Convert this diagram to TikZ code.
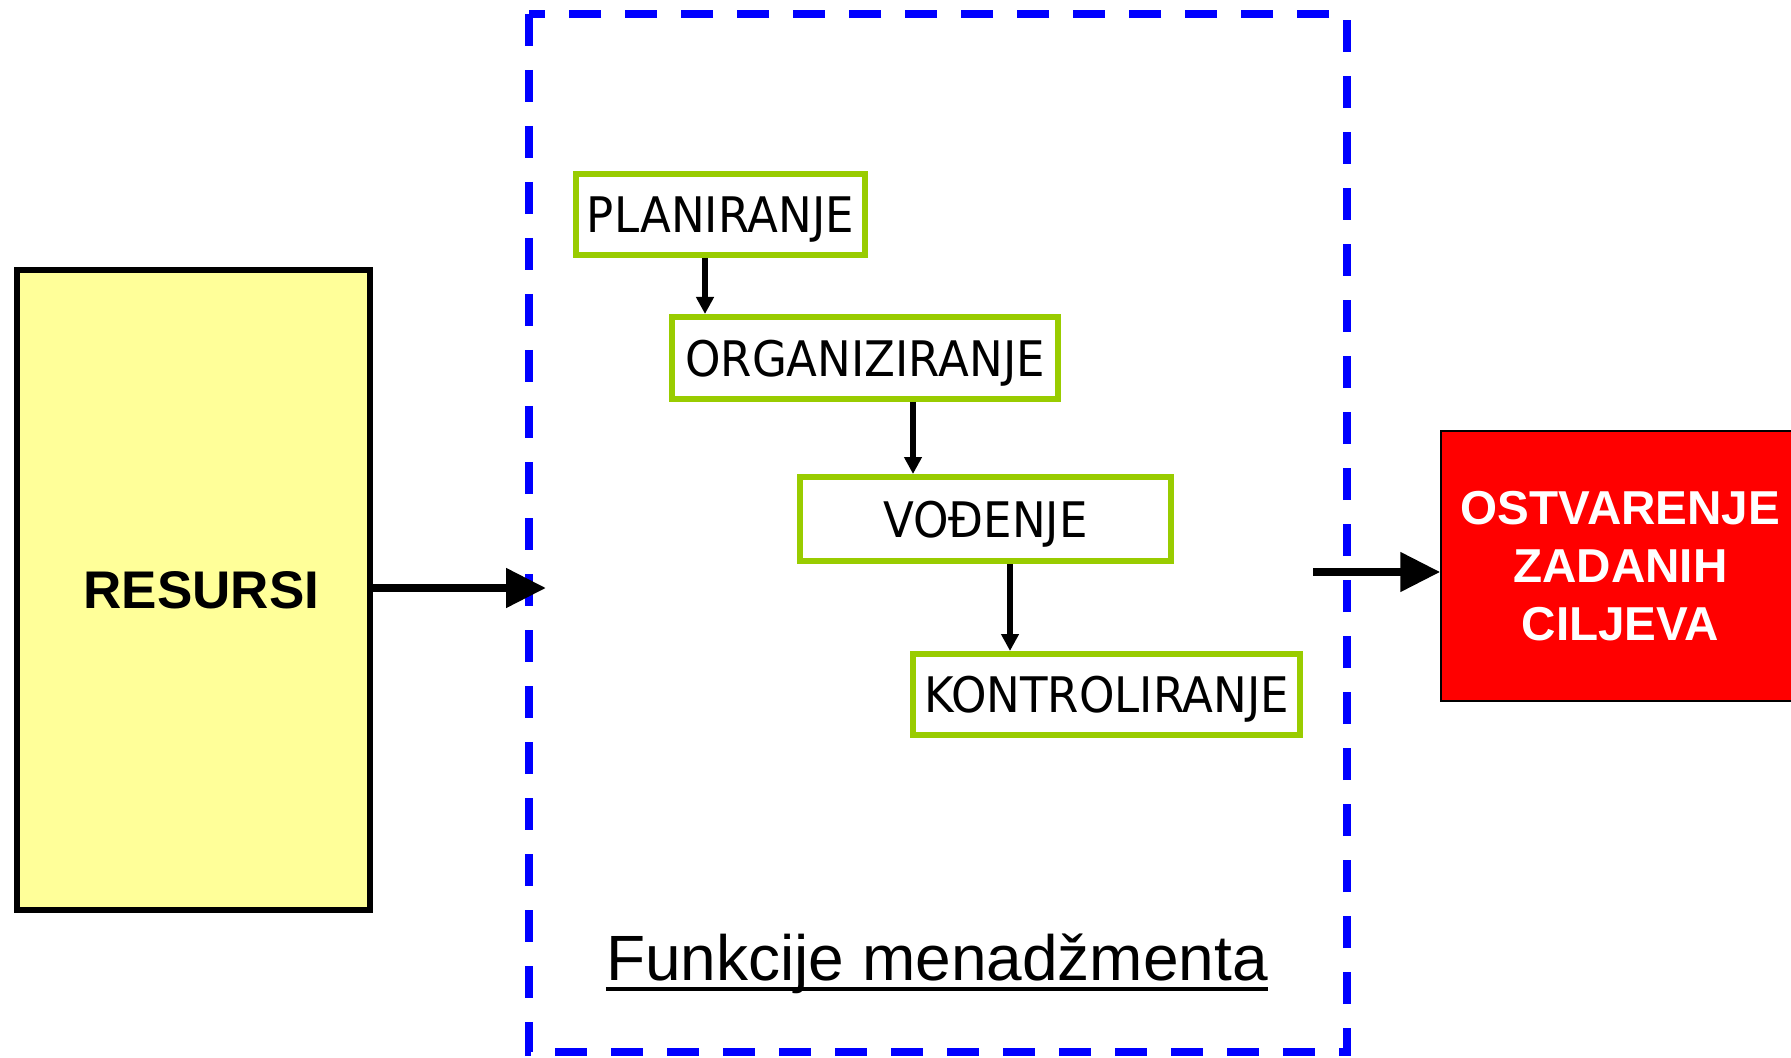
\documentclass[tikz,border=0pt]{standalone}
\usepackage{fontspec}
\setmainfont{Liberation Sans}
\newfontfamily\boxfont[FakeStretch=0.92]{DejaVu Sans}
\usetikzlibrary{arrows.meta,calc}
\definecolor{resyellow}{HTML}{FFFF99}
\definecolor{stepgreen}{HTML}{99CC00}
\definecolor{frameblue}{HTML}{0000FF}
\definecolor{goalred}{HTML}{FF0000}
\begin{document}
\begin{tikzpicture}[x=0.5pt,y=-0.5pt,
  resbox/.style={draw=black, line width=3pt, fill=resyellow, inner sep=0pt,
    font=\bfseries\fontsize{26.5pt}{32pt}\selectfont},
  stepbox/.style={draw=stepgreen, line width=3pt, fill=white, inner sep=0pt,
    text depth=0pt, font=\boxfont\fontsize{24.5pt}{29pt}\selectfont},
  goalbox/.style={draw=black, line width=0.75pt, fill=goalred, inner sep=0pt,
    text=white, align=center, font=\bfseries\fontsize{23.8pt}{29pt}\selectfont},
  frame/.style={draw=frameblue, line width=4pt, dash pattern=on 16pt off 12pt},
  bigarrow/.style={line width=4pt, -{Triangle[length=20pt,width=19pt]}},
  smallarrow/.style={line width=3pt, -{Triangle[length=8.5pt,width=8.5pt]}}
]
\clip (0,0) rectangle (1791,1058);
\fill[white] (0,0) rectangle (1791,1058);

% dashed frame around the management functions
\draw[frame] (529,14) rectangle (1347,1052);

% resources and goal
\node[resbox, minimum width=176.5pt, minimum height=320pt] (res) at (193.5,590)
  {\hspace*{8pt}RESURSI};
\node[goalbox, minimum width=179.5pt, minimum height=135pt] (goal) at (1620.5,566)
  {OSTVARENJE\\ZADANIH\\CILJEVA};

% the four functions
\node[stepbox, minimum width=144.5pt, minimum height=40.5pt] (plan) at (720.5,214.5) {PLANIRANJE};
\node[stepbox, minimum width=193pt, minimum height=41pt] (org) at (865,358) {ORGANIZIRANJE};
\node[stepbox, minimum width=185.5pt, minimum height=42pt] (vod) at (985.5,519) {VOĐENJE};
\node[stepbox, minimum width=193.5pt, minimum height=40.5pt] (kon) at (1106.5,694.5) {KONTROLIRANJE};

% caption
\node[anchor=base, inner sep=0pt, font=\fontsize{32pt}{38pt}\selectfont] (fn) at (937,980)
  {Funkcije menadžmenta};
\draw[line width=1.75pt] ([yshift=-4.5pt]fn.base west) -- ([yshift=-4.5pt]fn.base east);

% flow between functions
\coordinate (a1) at ([xshift=-7.75pt]plan.south);
\coordinate (a2) at ([xshift=24pt]org.south);
\coordinate (a3) at ([xshift=12.25pt]vod.south);
\draw[smallarrow] (a1) -- (a1 |- org.north);
\draw[smallarrow] (a2) -- (a2 |- vod.north);
\draw[smallarrow] (a3) -- (a3 |- kon.north);

% input and output arrows
\coordinate (in) at (546,588);
\draw[bigarrow] (res.east |- in) -- (in);
\coordinate (out) at (1313,572);
\draw[bigarrow] (out) -- (goal.west |- out);
\end{tikzpicture}
\end{document}
